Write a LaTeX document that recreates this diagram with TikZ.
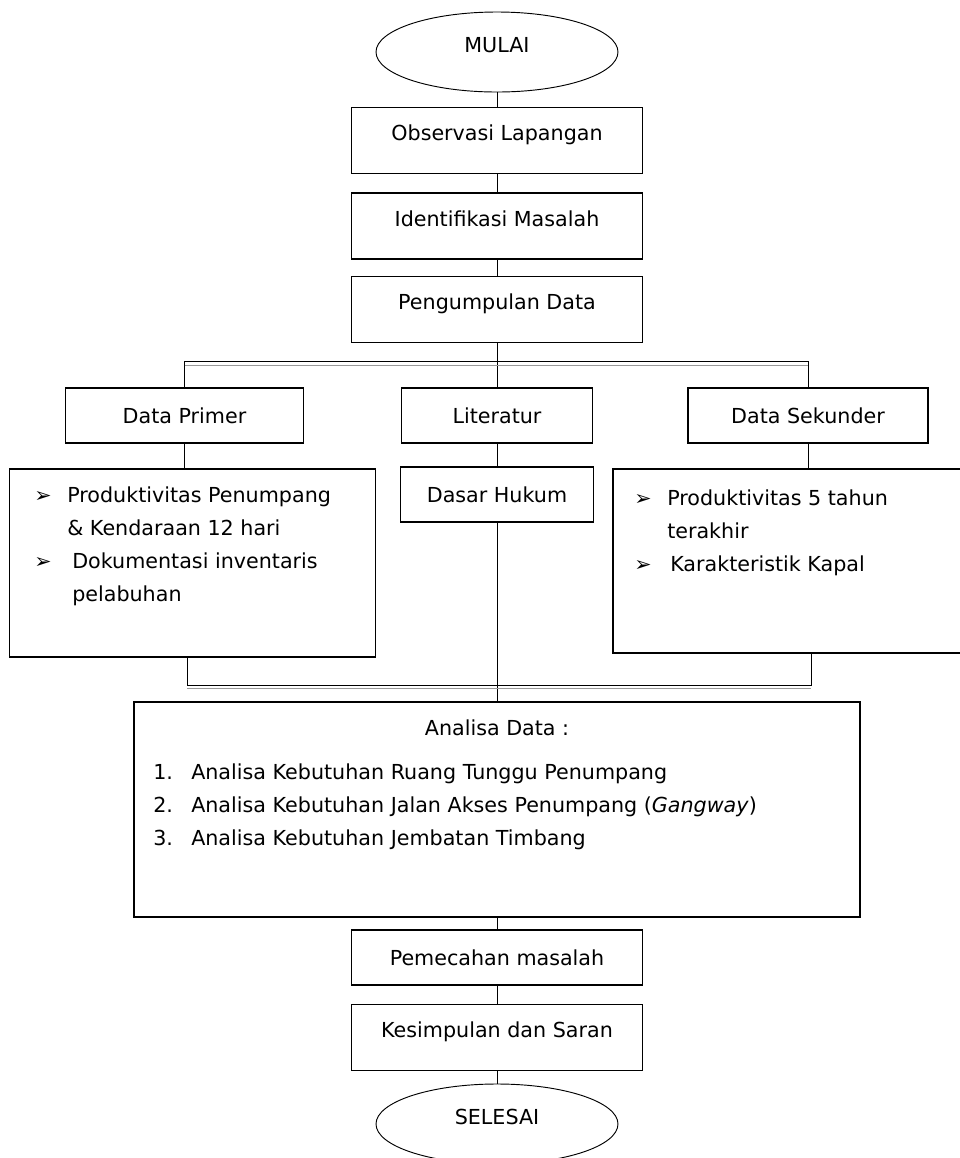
\documentclass[tikz,border=0pt]{standalone}
\usepackage{fontspec}
\setmainfont{DejaVu Sans}
\usepackage{tikz}
\usetikzlibrary{shapes.geometric}

\tikzset{
  kotak/.style={draw, line width=0.8pt, minimum width=218pt, minimum height=49.5pt,
    text height=12pt, text depth=12pt},
  kotakpendek/.style={draw, line width=0.8pt, minimum height=41.25pt},
  kotakbesar/.style={draw, line width=0.8pt},
  elips/.style={draw, ellipse, line width=0.7pt, minimum width=181.5pt, minimum height=60pt,
    text height=12pt, text depth=12pt},
  daftar/.style={anchor=base west, inner sep=0pt},
  garis/.style={line width=0.6pt},
  abu/.style={line width=0.7pt, black!40},
}

\begin{document}
\begin{tikzpicture}[x=0.75pt, y=-0.75pt, font=\fontsize{15.5}{24.75}\selectfont]
    \useasboundingbox (0,0) rectangle (960,1158);

    \node[elips](M)   at (497,   52) {MULAI};
    \node[kotak](obs) at (497,  140.5) {Observasi Lapangan};
    \node[kotak](idf) at (497,  226) {Identifikasi Masalah};
    \node[kotak](pgd) at (497,  309.5) {Pengumpulan Data};

    \node[kotakpendek, minimum width=179pt](dp) at (184.5, 415.5) {Data Primer};
    \node[kotakpendek, minimum width=143pt](lit) at (497, 415.5) {Literatur};
    \node[kotakpendek, minimum width=180pt](ds) at (808, 415.5) {Data Sekunder};
    \node[kotakpendek, minimum width=145pt](dh) at (497, 494.5) {Dasar Hukum};

    \node[kotakbesar, minimum width=274pt, minimum height=141pt](lbox) at (192.5, 563) {};
    \node[kotakbesar, minimum width=264pt, minimum height=138pt](rbox) at (789, 561) {};

    \node[daftar](tprimer) at (34, 502.5) {\begin{tabular}[t]{@{}p{24.75pt}@{}l@{}}
        ➢ & Produktivitas Penumpang\\
          & \& Kendaraan 12 hari\\
        ➢ & \hspace{3.75pt}Dokumentasi inventaris\\
          & \hspace{3.75pt}pelabuhan
      \end{tabular}};
    \node[daftar](tsekunder) at (634, 505) {\begin{tabular}[t]{@{}p{24.75pt}@{}l@{}}
        ➢ & Produktivitas 5 tahun\\
          & terakhir\\
        ➢ & \hspace{2.25pt}Karakteristik Kapal
      \end{tabular}};

    \node[kotakbesar, minimum width=544.5pt, minimum height=161.25pt](ana) at (497, 809.5) {};
    \node[anchor=base](judul) at (497, 735.5) {Analisa Data :};
    \node[daftar](langkah) at (153, 779) {\begin{tabular}[t]{@{}p{28.5pt}@{}l@{}}
        1. & Analisa Kebutuhan Ruang Tunggu Penumpang\\
        2. & Analisa Kebutuhan Jalan Akses Penumpang (\textit{Gangway})\\
        3. & Analisa Kebutuhan Jembatan Timbang
      \end{tabular}};

    \node[kotakpendek, minimum width=218pt](pmc) at (497, 957.5) {Pemecahan masalah};
    \node[kotak](ksp) at (497, 1037.5) {Kesimpulan dan Saran};
    \node[elips](S)   at (497, 1124) {SELESAI};

    \coordinate (bar)  at (0, 361);
    \coordinate (bar2) at (0, 365);
    \coordinate (kiri)  at (187, 685);
    \coordinate (kanan) at (811, 685);
    \coordinate (bawah2) at (0, 688);

    \draw[garis] (M) edge (obs) (obs) edge (idf) (idf) edge (pgd) (pgd) edge (lit)
              (lit) edge (dh) (dh) edge (ana) (ana) edge (pmc) (pmc) edge (ksp) (ksp) edge (S);
    \draw[garis] (dp.north) -- (dp.north |- bar) -- (ds.north |- bar) -- (ds.north);
    \draw[abu] (dp.north |- bar2) -- (ds.north |- bar2);
    \draw[garis] (dp.south) -- (dp.south |- lbox.north) (ds.south) -- (ds.south |- rbox.north);
    \draw[garis] (lbox.south -| kiri) -- (kiri) -- (kanan) -- (rbox.south -| kanan);
    \draw[abu] (kiri |- bawah2) -- (kanan |- bawah2);
  \end{tikzpicture}
\end{document}
